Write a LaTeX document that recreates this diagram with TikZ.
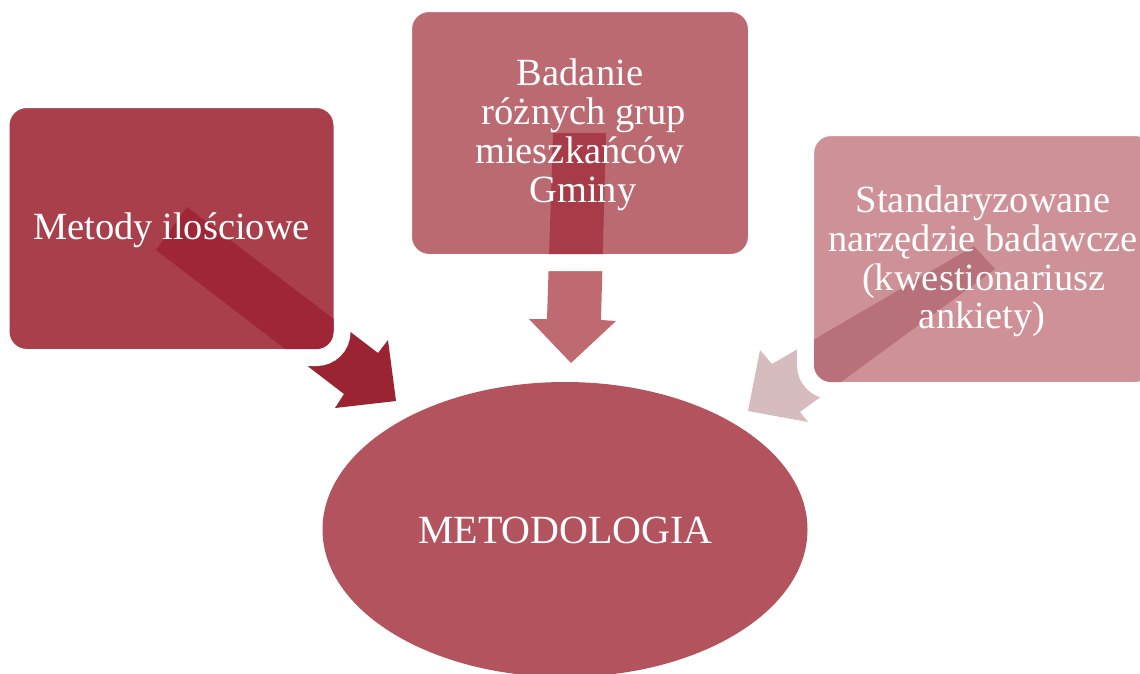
\documentclass[tikz,border=0pt]{standalone}
\usepackage{fontspec}
\setmainfont{Liberation Serif}
\usetikzlibrary{shapes.geometric}
\definecolor{boxA}{RGB}{168,63,75}
\definecolor{arrA}{RGB}{155,36,51}
\definecolor{ovA}{RGB}{158,38,54}
\definecolor{boxB}{RGB}{188,106,114}
\definecolor{arrB}{RGB}{191,105,113}
\definecolor{ovB}{RGB}{167,60,72}
\definecolor{boxC}{RGB}{206,145,152}
\definecolor{arrC}{RGB}{214,187,191}
\definecolor{ovC}{RGB}{184,113,122}
\definecolor{ellC}{RGB}{179,83,94}
\tikzset{
  boxshape/.style={rectangle, rounded corners=25.5pt, draw=white, line width=17pt, inner sep=0pt, outer sep=0pt},
  txt/.style={text=white, anchor=base, inner sep=0pt, font=\fontsize{38.5}{39}\selectfont},
  bigtxt/.style={text=white, anchor=base, inner sep=0pt, font=\fontsize{40}{40}\selectfont},
}
\begin{document}
\begin{tikzpicture}[x=1pt,y=-1pt]
\useasboundingbox (0,0) rectangle (1140,673);
\clip (0,0) rectangle (1140,673);
\fill[white] (0,0) rectangle (1140,673);

% arrow vertices
\coordinate (a1s1) at (187,207); \coordinate (a1n1) at (378,353); \coordinate (a1b1) at (388,340);
\coordinate (a1t) at (396,401); \coordinate (a1b2) at (335,408); \coordinate (a1n2) at (344,394);
\coordinate (a1s2) at (156,250);
\coordinate (a2s1) at (553,133); \coordinate (a2s2) at (606,133); \coordinate (a2n2) at (601,320);
\coordinate (a2b2) at (616,321); \coordinate (a2t) at (571,363); \coordinate (a2b1) at (529,319);
\coordinate (a2n1) at (547,319);
\coordinate (a3s1) at (974,246); \coordinate (a3n1) at (772,364); \coordinate (a3b1) at (760,350);
\coordinate (a3t) at (748,411); \coordinate (a3b2) at (808,422); \coordinate (a3n2) at (800,412);
\coordinate (a3s2) at (995,269);

% arrows (outside parts)
\fill[arrA] (a1s1) -- (a1n1) -- (a1b1) -- (a1t) -- (a1b2) -- (a1n2) -- (a1s2) -- cycle;
\fill[arrB] (a2s1) -- (a2s2) -- (a2n2) -- (a2b2) -- (a2t) -- (a2b1) -- (a2n1) -- cycle;
\fill[arrC] (a3s1) -- (a3n1) -- (a3b1) -- (a3t) -- (a3b2) -- (a3n2) -- (a3s2) -- cycle;

% boxes (visible fill = size - 17pt)
\node[boxshape, fill=boxA, minimum width=341pt, minimum height=258pt] (b1) at (171.5,228.5) {};
\node[boxshape, fill=boxB, minimum width=353pt, minimum height=259pt] (b2) at (580,133) {};
\node[boxshape, fill=boxC, minimum width=355pt, minimum height=263pt] (b3) at (983,259) {};

% arrow parts seen through the boxes
\begin{scope}
\clip[rounded corners=17pt] ([shift={(8.5pt,8.5pt)}]b1.south west) rectangle ([shift={(-8.5pt,-8.5pt)}]b1.north east);
\fill[ovA] (a1s1) -- (a1n1) -- (a1b1) -- (a1t) -- (a1b2) -- (a1n2) -- (a1s2) -- cycle;
\end{scope}
\begin{scope}
\clip[rounded corners=17pt] ([shift={(8.5pt,8.5pt)}]b2.south west) rectangle ([shift={(-8.5pt,-8.5pt)}]b2.north east);
\fill[ovB] (a2s1) -- (a2s2) -- (a2n2) -- (a2b2) -- (a2t) -- (a2b1) -- (a2n1) -- cycle;
\end{scope}
\begin{scope}
\clip[rounded corners=17pt] ([shift={(8.5pt,8.5pt)}]b3.south west) rectangle ([shift={(-8.5pt,-8.5pt)}]b3.north east);
\fill[ovC] (a3s1) -- (a3n1) -- (a3b1) -- (a3t) -- (a3b2) -- (a3n2) -- (a3s2) -- cycle;
\end{scope}

% ellipse
\node[ellipse, fill=ellC, minimum width=485pt, minimum height=295pt, inner sep=0pt] (ell) at (565,529.5) {};

% texts
\node[txt] (t1) at (171.5,239) {Metody ilościowe};
\node[txt] (t2a) at (580,85) {Badanie};
\node[txt] (t2b) at (584,124) {różnych grup};
\node[txt] (t2c) at (580,163) {mieszkańców};
\node[txt] (t2d) at (583,202) {Gminy};
\node[txt] (t3a) at (983,212) {Standaryzowane};
\node[txt] (t3b) at (983,251) {narzędzie badawcze};
\node[txt] (t3c) at (984,290) {(kwestionariusz};
\node[txt] (t3d) at (982,328) {ankiety)};
\node[bigtxt] (t4) at (565.5,543) {METODOLOGIA};
\end{tikzpicture}
\end{document}
